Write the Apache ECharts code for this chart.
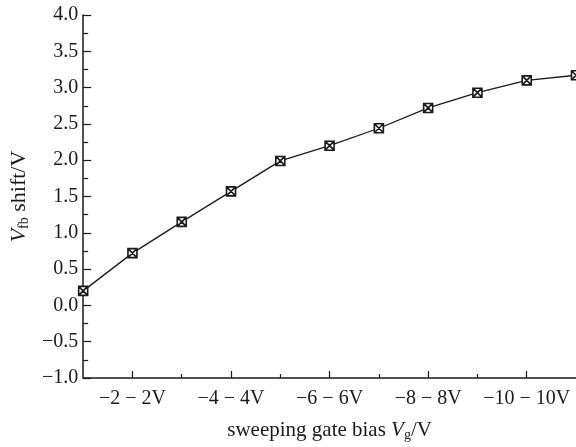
<!DOCTYPE html>
<html>
<head>
<meta charset="utf-8">
<script src="https://cdn.jsdelivr.net/npm/echarts@6/dist/echarts.min.js"></script>
<style>
  html, body { margin: 0; padding: 0; background: #fff; }
  #chart { width: 576px; height: 447px; }
</style>
</head>
<body>
<div id="chart"></div>
<script>
// sweeping gate bias ranges, -1~1V ... -11~11V
const categories = [
  "−1 − 1V", "−2 − 2V", "−3 − 3V", "−4 − 4V", "−5 − 5V", "−6 − 6V",
  "−7 − 7V", "−8 − 8V", "−9 − 9V", "−10 − 10V", "−11 − 11V",
];
// Vfb shift (V)
const shiftValues = [0.2, 0.72, 1.15, 1.57, 1.99, 2.2, 2.44, 2.72, 2.93, 3.1, 3.17];

const FONT = "Liberation Serif";
const INK = "#1a1a1a";

// square with a cross inside
const boxCross = "path://M0,0L10,0L10,10L0,10Z M0,0L10,10 M10,0L0,10";

const chart = echarts.init(document.getElementById("chart"));

const option = {
  animation: false,
  backgroundColor: "#fff",
  grid: { left: 83, right: 0, top: 15, bottom: 69 },
  xAxis: [
    {
      type: "category",
      data: categories,
      boundaryGap: false,
      name: "{t|sweeping gate bias }{i|V}{sub|g}{t|/V}",
      nameLocation: "middle",
      nameGap: 40,
      nameTextStyle: {
        rich: {
          t: { fontFamily: FONT, fontSize: 21, color: INK },
          i: { fontFamily: FONT, fontSize: 21, color: INK, fontStyle: "italic" },
          sub: { fontFamily: FONT, fontSize: 14, color: INK, padding: [10, 0, 0, 0] },
        },
      },
      axisLine: { onZero: false, lineStyle: { color: INK, width: 1.5 } },
      axisTick: {
        inside: true,
        length: 7,
        interval: (i) => i % 2 === 1,
        lineStyle: { color: INK, width: 1.2 },
      },
      axisLabel: {
        interval: (i) => i % 2 === 1,
        margin: 11,
        fontFamily: FONT,
        fontSize: 20,
        color: INK,
      },
      splitLine: { show: false },
    },
    {
      type: "category",
      data: categories,
      boundaryGap: false,
      position: "bottom",
      axisLine: { show: false, onZero: false },
      axisTick: {
        inside: true,
        length: 4,
        interval: (i) => i % 2 === 0 && i > 0 && i < categories.length - 1,
        lineStyle: { color: INK, width: 1.2 },
      },
      axisLabel: { show: false },
      splitLine: { show: false },
    },
  ],
  yAxis: {
    type: "value",
    min: -1,
    max: 4,
    interval: 0.5,
    name: "{i|V}{sub|fb}{t| shift/V}",
    nameLocation: "middle",
    nameRotate: 90,
    nameGap: 52,
    nameTextStyle: {
      rich: {
        t: { fontFamily: FONT, fontSize: 22, color: INK },
        i: { fontFamily: FONT, fontSize: 22, color: INK, fontStyle: "italic" },
        sub: { fontFamily: FONT, fontSize: 14, color: INK, padding: [10, 0, 0, 0] },
      },
    },
    axisLine: { show: true, lineStyle: { color: INK, width: 1.5 } },
    axisTick: { show: true, inside: true, length: 8, lineStyle: { color: INK, width: 1.2 } },
    minorTick: { show: true, splitNumber: 2, length: 5, lineStyle: { color: INK, width: 1.2 } },
    axisLabel: {
      margin: 5,
      fontFamily: FONT,
      fontSize: 20,
      color: INK,
      formatter: (v) => v.toFixed(1).replace("-", "−"),
    },
    splitLine: { show: false },
  },
  series: [
    {
      type: "line",
      data: shiftValues,
      symbol: boxCross,
      symbolSize: 9,
      showAllSymbol: true,
      clip: false,
      lineStyle: { color: INK, width: 1.3 },
      itemStyle: { color: "#fff", borderColor: INK, borderWidth: 1.6 },
    },
  ],
};

chart.setOption(option);
</script>
</body>
</html>
